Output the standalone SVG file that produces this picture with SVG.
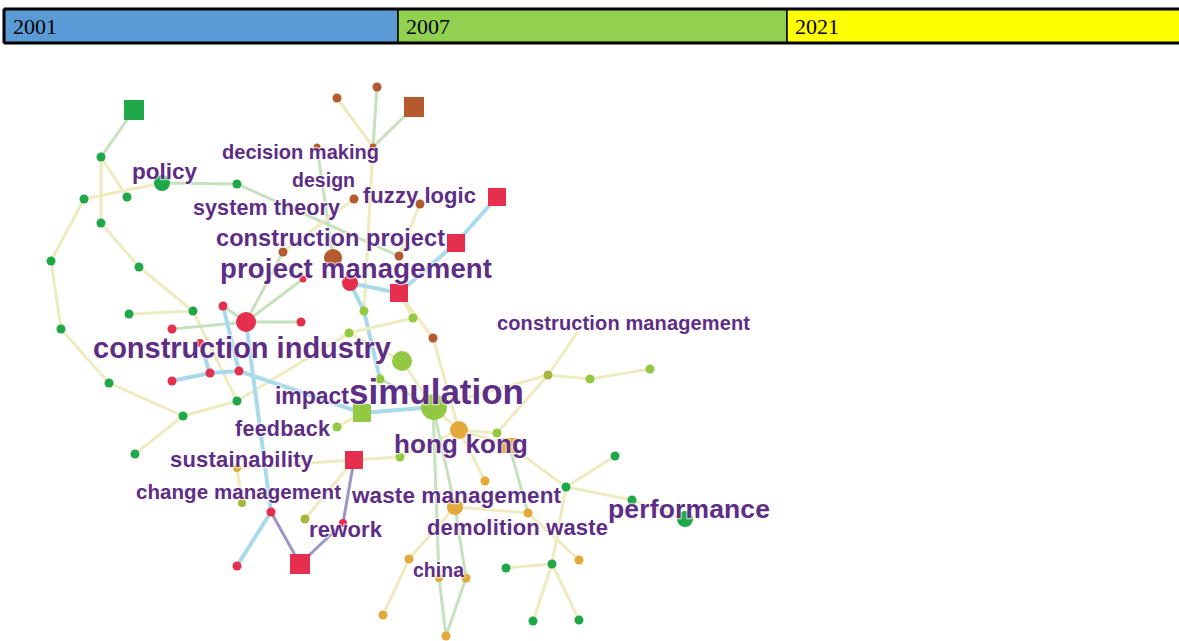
<svg xmlns="http://www.w3.org/2000/svg" width="1179" height="641" viewBox="0 0 1179 641">
  <style>
    .bar-cell { stroke: #000; stroke-width: 1.5; }
    .year { font-family: "Liberation Serif", "Times New Roman", serif; font-size: 22px; fill: #000; }
    .e { fill: none; stroke-linecap: round; }
    .ey { stroke: #EEEBC0; stroke-width: 3; }
    .eg { stroke: #C6E1BE; stroke-width: 3; }
    .eb { stroke: #A9DAEA; stroke-width: 4; }
    .ep { stroke: #9C95C6; stroke-width: 3; }
    .g { fill: #1FA84A; }
    .lg { fill: #93C843; }
    .ol { fill: #A9B53F; }
    .r { fill: #E62F4F; }
    .br { fill: #B5592F; }
    .o { fill: #E3A93A; }
    .lbl { font-family: "Liberation Sans", Arial, sans-serif; font-weight: bold; fill: #5E2D85;
           stroke: #fff; stroke-opacity: 0.6; stroke-width: 2.5; paint-order: stroke; }
  </style>

  <!-- timeline legend bar -->
  <g id="timeline">
    <rect class="bar-cell" x="4" y="9" width="394" height="34" fill="#5B9BD5"/>
    <rect class="bar-cell" x="398" y="9" width="389" height="34" fill="#92D050"/>
    <rect class="bar-cell" x="787" y="9" width="397" height="34" fill="#FFFF00"/>
    <path d="M4 9 H1179 M4 43 H1179 M4 9 V43" stroke="#000" stroke-width="3" fill="none"/>
    <text class="year" x="13" y="34">2001</text>
    <text class="year" x="406" y="34">2007</text>
    <text class="year" x="795" y="34">2021</text>
  </g>

  <!-- connectors -->
  <g id="edges" class="e">
    <!-- left green cluster -->
    <line class="eg" x1="134" y1="110" x2="101" y2="157"/>
    <line class="ey" x1="101" y1="157" x2="101" y2="223" stroke-width="4"/>
    <line class="ey" x1="101" y1="157" x2="127" y2="197"/>
    <line class="ey" x1="84" y1="199" x2="162" y2="183"/>
    <line class="ey" x1="84" y1="199" x2="51" y2="261"/>
    <line class="ey" x1="101" y1="223" x2="139" y2="267"/>
    <line class="ey" x1="139" y1="267" x2="193" y2="311"/>
    <line class="ey" x1="129" y1="314" x2="193" y2="311"/>
    <line class="ey" x1="51" y1="261" x2="61" y2="329"/>
    <line class="ey" x1="61" y1="329" x2="109" y2="383"/>
    <line class="ey" x1="109" y1="383" x2="183" y2="416"/>
    <line class="ey" x1="183" y1="416" x2="135" y2="454"/>
    <line class="ey" x1="183" y1="416" x2="237" y2="401"/>
    <line class="ey" x1="237" y1="401" x2="349" y2="333"/>
    <line class="ey" x1="193" y1="311" x2="237" y2="401"/>
    <line class="eg" x1="162" y1="183" x2="237" y2="184"/>
    <line class="eg" x1="237" y1="184" x2="399" y2="256"/>
    <!-- upper brown cluster -->
    <line class="eg" x1="377" y1="87" x2="373" y2="147"/>
    <line class="eg" x1="414" y1="107" x2="373" y2="147"/>
    <line class="ey" x1="337" y1="98" x2="373" y2="147"/>
    <line class="ey" x1="373" y1="147" x2="364" y2="311"/>
    <line class="eg" x1="317" y1="147" x2="333" y2="257"/>
    <line class="ey" x1="354" y1="199" x2="283" y2="252"/>
    <line class="ey" x1="420" y1="204" x2="399" y2="256"/>
    <line class="eg" x1="283" y1="252" x2="246" y2="322"/>
    <line class="ey" x1="333" y1="257" x2="350" y2="283"/>
    <!-- red cluster and blue paths -->
    <line class="eb" x1="350" y1="283" x2="399" y2="293"/>
    <line class="eb" x1="497" y1="197" x2="456" y2="243"/>
    <line class="eb" x1="456" y1="243" x2="399" y2="293"/>
    <line class="ey" x1="399" y1="293" x2="433" y2="338"/>
    <line class="ey" x1="433" y1="338" x2="459" y2="430"/>
    <line class="eb" x1="350" y1="283" x2="364" y2="311"/>
    <line class="eb" x1="364" y1="311" x2="380" y2="379"/>
    <line class="ey" x1="413" y1="318" x2="399" y2="293"/>
    <line class="ey" x1="413" y1="318" x2="349" y2="333"/>
    <line class="ey" x1="349" y1="333" x2="402" y2="361"/>
    <line class="ey" x1="402" y1="361" x2="433" y2="407"/>
    <line class="eg" x1="380" y1="379" x2="433" y2="407"/>
    <line class="eg" x1="246" y1="322" x2="223" y2="306"/>
    <line class="eg" x1="246" y1="322" x2="301" y2="322"/>
    <line class="eg" x1="246" y1="322" x2="172" y2="329"/>
    <line class="eg" x1="246" y1="322" x2="303" y2="279"/>
    <line class="eb" x1="223" y1="306" x2="239" y2="371"/>
    <line class="eb" x1="172" y1="381" x2="210" y2="373"/>
    <line class="eb" x1="210" y1="373" x2="239" y2="371"/>
    <line class="eb" x1="200" y1="343" x2="210" y2="373"/>
    <line class="eb" x1="239" y1="371" x2="362" y2="413"/>
    <line class="eb" x1="362" y1="413" x2="433" y2="407"/>
    <line class="eb" x1="246" y1="322" x2="271" y2="512"/>
    <line class="eb" x1="271" y1="512" x2="237" y2="566"/>
    <line class="ep" x1="354" y1="460" x2="343" y2="523"/>
    <line class="ep" x1="300" y1="564" x2="343" y2="523"/>
    <line class="ep" x1="300" y1="564" x2="271" y2="512"/>
    <!-- middle and lower connectors -->
    <line class="ey" x1="354" y1="460" x2="400" y2="457"/>
    <line class="ey" x1="400" y1="457" x2="459" y2="430"/>
    <line class="ey" x1="237" y1="468" x2="354" y2="460"/>
    <line class="ey" x1="242" y1="503" x2="237" y2="468"/>
    <line class="ey" x1="305" y1="519" x2="354" y2="460"/>
    <line class="ey" x1="337" y1="427" x2="362" y2="413"/>
    <line class="ey" x1="433" y1="407" x2="459" y2="430"/>
    <line class="ey" x1="459" y1="430" x2="485" y2="481"/>
    <line class="ey" x1="459" y1="430" x2="509" y2="445"/>
    <line class="ey" x1="459" y1="430" x2="497" y2="433"/>
    <line class="ey" x1="497" y1="433" x2="548" y2="375"/>
    <line class="ey" x1="548" y1="375" x2="577" y2="333"/>
    <line class="ey" x1="548" y1="375" x2="590" y2="379"/>
    <line class="ey" x1="590" y1="379" x2="650" y2="369"/>
    <line class="ey" x1="548" y1="375" x2="433" y2="407"/>
    <line class="ey" x1="509" y1="445" x2="566" y2="487"/>
    <line class="ey" x1="615" y1="456" x2="566" y2="487"/>
    <line class="ey" x1="566" y1="487" x2="632" y2="500"/>
    <line class="ey" x1="632" y1="500" x2="685" y2="519"/>
    <line class="eg" x1="509" y1="445" x2="528" y2="513"/>
    <line class="ey" x1="455" y1="507" x2="528" y2="513"/>
    <line class="ey" x1="566" y1="487" x2="552" y2="564"/>
    <line class="ey" x1="506" y1="568" x2="552" y2="564"/>
    <line class="ey" x1="552" y1="564" x2="533" y2="621"/>
    <line class="ey" x1="552" y1="564" x2="579" y2="620"/>
    <line class="ey" x1="579" y1="560" x2="528" y2="513"/>
    <line class="eg" x1="433" y1="407" x2="455" y2="507"/>
    <line class="ey" x1="455" y1="507" x2="409" y2="559"/>
    <line class="ey" x1="409" y1="559" x2="383" y2="615"/>
    <line class="eg" x1="433" y1="407" x2="439" y2="578"/>
    <line class="eg" x1="455" y1="507" x2="466" y2="578"/>
    <line class="eg" x1="439" y1="578" x2="446" y2="636"/>
    <line class="eg" x1="466" y1="578" x2="446" y2="636"/>
  </g>

  <!-- nodes -->
  <g id="nodes">
    <g id="n-g1"><rect class="g" x="124" y="100" width="20" height="20"/></g>
    <g id="n-g2"><circle class="g" cx="101" cy="157" r="4.5"/></g>
    <g id="n-g3"><circle class="g" cx="127" cy="197" r="4.5"/></g>
    <g id="n-g4"><circle class="g" cx="84" cy="199" r="4.5"/></g>
    <g id="n-g5"><circle class="g" cx="101" cy="223" r="4.5"/></g>
    <g id="n-policy"><circle class="g" cx="162" cy="183" r="8"/></g>
    <g id="n-g7"><circle class="g" cx="237" cy="184" r="4.5"/></g>
    <g id="n-g8"><circle class="g" cx="51" cy="261" r="4.5"/></g>
    <g id="n-g9"><circle class="g" cx="139" cy="267" r="4.5"/></g>
    <g id="n-g10"><circle class="g" cx="129" cy="314" r="4.5"/></g>
    <g id="n-g11"><circle class="g" cx="193" cy="311" r="4.5"/></g>
    <g id="n-g12"><circle class="g" cx="61" cy="329" r="4.5"/></g>
    <g id="n-g13"><circle class="g" cx="109" cy="383" r="4.5"/></g>
    <g id="n-g14"><circle class="g" cx="183" cy="416" r="4.5"/></g>
    <g id="n-g15"><circle class="g" cx="237" cy="401" r="4.5"/></g>
    <g id="n-g16"><circle class="g" cx="135" cy="454" r="4.5"/></g>
    <g id="n-g17"><circle class="g" cx="615" cy="456" r="4.5"/></g>
    <g id="n-g18"><circle class="g" cx="566" cy="487" r="4.5"/></g>
    <g id="n-g19"><circle class="g" cx="632" cy="500" r="4.5"/></g>
    <g id="n-performance"><circle class="g" cx="685" cy="519" r="8"/></g>
    <g id="n-g21"><circle class="g" cx="506" cy="568" r="4.5"/></g>
    <g id="n-g22"><circle class="g" cx="552" cy="564" r="4.5"/></g>
    <g id="n-g23"><circle class="g" cx="533" cy="621" r="4.5"/></g>
    <g id="n-g24"><circle class="g" cx="579" cy="620" r="4.5"/></g>

    <g id="n-b1"><circle class="br" cx="337" cy="98" r="4.5"/></g>
    <g id="n-b2"><circle class="br" cx="377" cy="87" r="4.5"/></g>
    <g id="n-b3"><rect class="br" x="404" y="97" width="20" height="20"/></g>
    <g id="n-b4"><circle class="br" cx="373" cy="147" r="3.5"/></g>
    <g id="n-b11"><circle class="br" cx="317" cy="147" r="3.5"/></g>
    <g id="n-b5"><circle class="br" cx="354" cy="199" r="4.5"/></g>
    <g id="n-b6"><circle class="br" cx="420" cy="204" r="4.5"/></g>
    <g id="n-b7"><circle class="br" cx="283" cy="252" r="4.5"/></g>
    <g id="n-b8"><circle class="br" cx="333" cy="258" r="9"/></g>
    <g id="n-b9"><circle class="br" cx="399" cy="256" r="4.5"/></g>
    <g id="n-b10"><circle class="br" cx="433" cy="338" r="4.5"/></g>

    <g id="n-r1"><rect class="r" x="488" y="188" width="18" height="18"/></g>
    <g id="n-r2"><rect class="r" x="447" y="234" width="18" height="18"/></g>
    <g id="n-r3"><rect class="r" x="390" y="284" width="18" height="18"/></g>
    <g id="n-r4"><circle class="r" cx="350" cy="283" r="8"/></g>
    <g id="n-r18"><circle class="r" cx="303" cy="279" r="3.5"/></g>
    <g id="n-r5"><circle class="r" cx="223" cy="306" r="4.5"/></g>
    <g id="n-r6"><circle class="r" cx="246" cy="322" r="10"/></g>
    <g id="n-r7"><circle class="r" cx="301" cy="322" r="4.5"/></g>
    <g id="n-r8"><circle class="r" cx="172" cy="329" r="4.5"/></g>
    <g id="n-r9"><circle class="r" cx="200" cy="343" r="4"/></g>
    <g id="n-r10"><circle class="r" cx="210" cy="373" r="4.5"/></g>
    <g id="n-r11"><circle class="r" cx="239" cy="371" r="4.5"/></g>
    <g id="n-r12"><circle class="r" cx="172" cy="381" r="4.5"/></g>
    <g id="n-r13"><rect class="r" x="345" y="451" width="18" height="18"/></g>
    <g id="n-r14"><circle class="r" cx="271" cy="512" r="4.5"/></g>
    <g id="n-r15"><circle class="r" cx="343" cy="523" r="4"/></g>
    <g id="n-r16"><rect class="r" x="290" y="554" width="20" height="20"/></g>
    <g id="n-r17"><circle class="r" cx="237" cy="566" r="4.5"/></g>

    <g id="n-lg1"><circle class="lg" cx="364" cy="311" r="4.5"/></g>
    <g id="n-lg2"><circle class="lg" cx="413" cy="318" r="4.5"/></g>
    <g id="n-lg3"><circle class="lg" cx="349" cy="333" r="4.5"/></g>
    <g id="n-lg4"><circle class="lg" cx="402" cy="361" r="10"/></g>
    <g id="n-lg5"><circle class="lg" cx="380" cy="379" r="4.5"/></g>
    <g id="n-simulation"><circle class="lg" cx="434" cy="407" r="13"/></g>
    <g id="n-lg7"><rect class="lg" x="353" y="404" width="18" height="18"/></g>
    <g id="n-lg8"><circle class="lg" cx="337" cy="427" r="4.5"/></g>
    <g id="n-lg9"><circle class="lg" cx="497" cy="433" r="4.5"/></g>
    <g id="n-lg10"><circle class="lg" cx="400" cy="457" r="4.5"/></g>
    <g id="n-lg11"><circle class="ol" cx="548" cy="375" r="4.5"/></g>
    <g id="n-lg12"><circle class="lg" cx="590" cy="379" r="4.5"/></g>
    <g id="n-lg13"><circle class="lg" cx="650" cy="369" r="4.5"/></g>
    <g id="n-lg14"><circle class="ol" cx="242" cy="503" r="4"/></g>
    <g id="n-lg15"><circle class="ol" cx="305" cy="519" r="4.5"/></g>
    <g id="n-lg16"><circle class="o" cx="237" cy="468" r="4"/></g>

    <g id="n-hongkong"><circle class="o" cx="459" cy="430" r="9"/></g>
    <g id="n-o2"><rect class="o" x="502" y="438" width="15" height="15"/></g>
    <g id="n-o3"><circle class="o" cx="485" cy="481" r="4.5"/></g>
    <g id="n-o4"><circle class="o" cx="455" cy="507" r="8"/></g>
    <g id="n-o5"><circle class="o" cx="528" cy="513" r="4.5"/></g>
    <g id="n-o6"><circle class="o" cx="409" cy="559" r="4.5"/></g>
    <g id="n-o7"><circle class="o" cx="439" cy="578" r="4"/></g>
    <g id="n-o8"><circle class="o" cx="466" cy="578" r="4.5"/></g>
    <g id="n-o9"><circle class="o" cx="579" cy="560" r="4.5"/></g>
    <g id="n-o10"><circle class="o" cx="383" cy="615" r="4.5"/></g>
    <g id="n-o11"><circle class="o" cx="446" cy="636" r="4.5"/></g>
  </g>

  <!-- keyword labels -->
  <g id="labels">
    <g id="l-decision-making"><text class="lbl" x="222" y="159" font-size="20" textLength="157">decision making</text></g>
    <g id="l-policy"><text class="lbl" x="132" y="179" font-size="22.5" textLength="65">policy</text></g>
    <g id="l-design"><text class="lbl" x="292" y="187" font-size="19.5" textLength="63">design</text></g>
    <g id="l-fuzzy-logic"><text class="lbl" x="363" y="203" font-size="22" textLength="113">fuzzy logic</text></g>
    <g id="l-system-theory"><text class="lbl" x="193" y="215" font-size="21.5" textLength="147">system theory</text></g>
    <g id="l-construction-project"><text class="lbl" x="216" y="246" font-size="23.5" textLength="229">construction project</text></g>
    <g id="l-project-management"><text class="lbl" x="220" y="278" font-size="27.5" textLength="272">project management</text></g>
    <g id="l-construction-management"><text class="lbl" x="497" y="330" font-size="20" textLength="253">construction management</text></g>
    <g id="l-construction-industry"><text class="lbl" x="93" y="358" font-size="29" textLength="298">construction industry</text></g>
    <g id="l-impact"><text class="lbl" x="275" y="404" font-size="23" textLength="74">impact</text></g>
    <g id="l-simulation"><text class="lbl" x="349" y="404" font-size="35" textLength="175" fill="#4E2A7E">simulation</text></g>
    <g id="l-feedback"><text class="lbl" x="235" y="436" font-size="21.5" textLength="95">feedback</text></g>
    <g id="l-hong-kong"><text class="lbl" x="394" y="453" font-size="26" textLength="134">hong kong</text></g>
    <g id="l-sustainability"><text class="lbl" x="170" y="467" font-size="22" textLength="143">sustainability</text></g>
    <g id="l-change-management"><text class="lbl" x="136" y="499" font-size="20.5" textLength="205">change management</text></g>
    <g id="l-waste-management"><text class="lbl" x="352" y="503" font-size="22.5" textLength="209">waste management</text></g>
    <g id="l-performance"><text class="lbl" x="608" y="518" font-size="26.5" textLength="162">performance</text></g>
    <g id="l-rework"><text class="lbl" x="309" y="537" font-size="22" textLength="73">rework</text></g>
    <g id="l-demolition-waste"><text class="lbl" x="427" y="535" font-size="22" textLength="181">demolition waste</text></g>
    <g id="l-china"><text class="lbl" x="413" y="577" font-size="19.5" textLength="51">china</text></g>
  </g>
</svg>
